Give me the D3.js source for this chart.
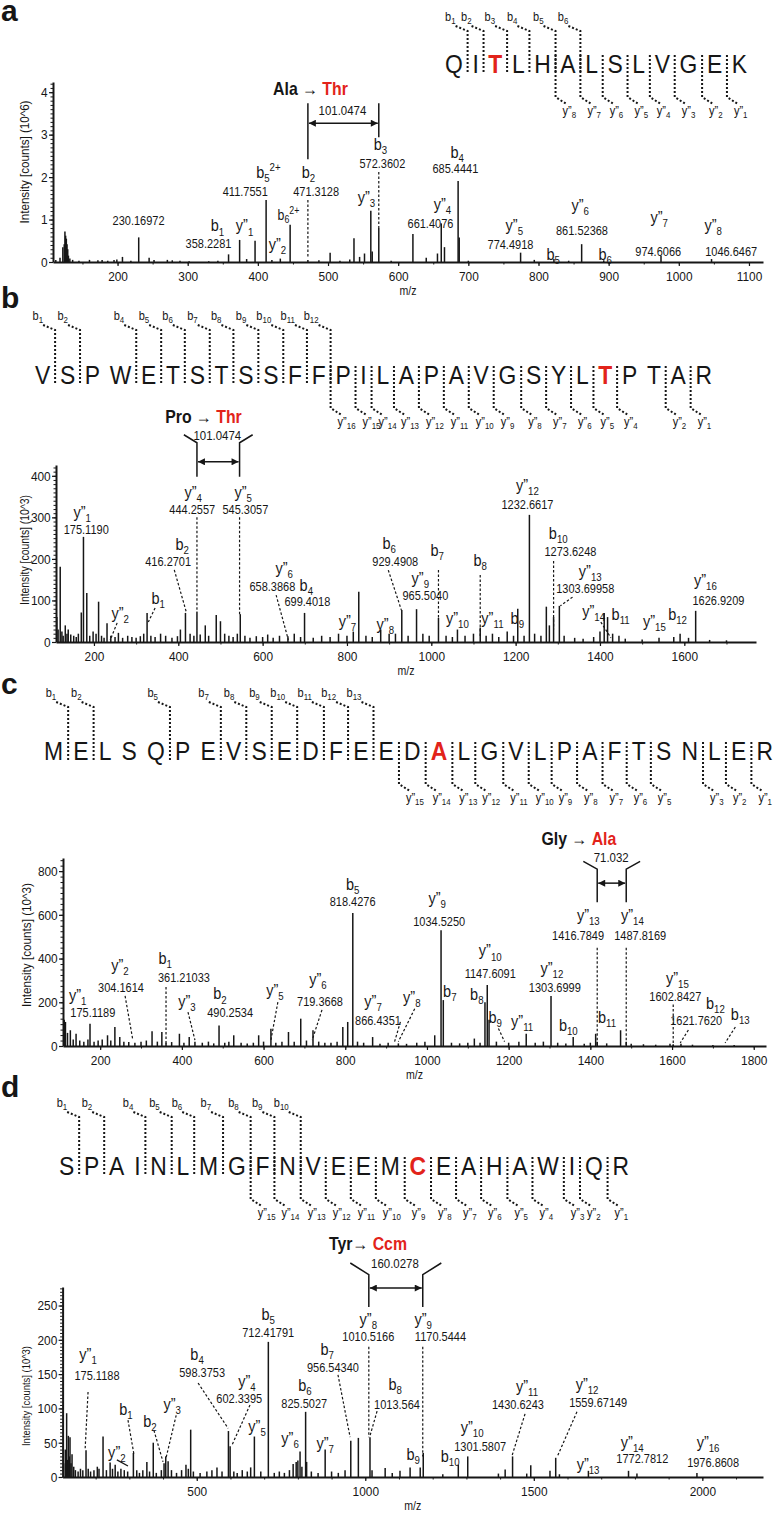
<!DOCTYPE html>
<html><head><meta charset="utf-8">
<script src="https://cdn.jsdelivr.net/npm/d3@7"></script>
<style>
body{margin:0;background:#fff}
svg{display:block}
text{font-family:"Liberation Sans",Arial,Helvetica,sans-serif}
</style>
</head><body>
<svg id="fig" width="778" height="1513"></svg>
<script>
// ================= DATA =================
// ---- panel a ----
const seqA = "QITLHALSLVGEK";
const bIonsA = [1,2,3,4,5,6];
const yIonsA = [8,7,6,5,4,3,2,1];
const redA = 2;
const xTicksA = [200,300,400,500,600,700,800,900,1000,1100];
const yTicksA = [0,1,2,3,4];
const peaksA = [[112,0.05],[118,0.1],[122,0.35],[124,0.42],[125,0.72],[126,0.62],[127,0.55],[128,0.42],[129,0.3],[130,0.15],[132,0.08],[136,0.05],[145,0.03],[160,0.05],[172,0.04],[178,0.05],[186,0.03],[195,0.05],[199,0.06],[207,0.12],[219,0.03],[230.17,0.58],[245,0.1],[252,0.05],[271,0.05],[278,0.04],[289,0.03],[302,0.02],[330,0.02],[343,0.03],[358.23,0.18],[374,0.52],[384,0.07],[396,0.5],[411.76,1.46],[420,0.05],[432,0.08],[446,0.88],[471.31,0.05],[487,0.04],[503,0.22],[517,0.03],[531,0.06],[537,0.56],[545,0.12],[552,0.2],[561,1.21],[563,0.25],[572.36,0.8],[590,0.03],[621,0.66],[640,0.1],[656,0.2],[661.41,0.91],[666,0.35],[685.44,1.91],[687,0.58],[700,0.03],[774.49,0.22],[794,0.05],[822,0.07],[843,0.03],[861.52,0.42],[893,0.04],[974.61,0.15],[1046.65,0.07]];
const annA = [
 {val:'230.16972', vat:[230,0.87]},
 {ion:'b',n:'1', at:[342.5,0.72], val:'358.2281', vat:[329.6,0.33]},
 {ion:'y',n:'1', at:[381,0.72]},
 {ion:'y',n:'2', at:[428,0.28]},
 {ion:'b',n:'5',sup:'2+', at:[415,1.98], val:'411.7551', vat:[382,1.55]},
 {ion:'b',n:'6',sup:'2+', at:[443.6,0.99], small:true},
 {ion:'b',n:'2', at:[472,1.98], val:'471.3128', vat:[483,1.55]},
 {ion:'b',n:'3', at:[574.6,2.64], val:'572.3602', vat:[577.5,2.21]},
 {ion:'y',n:'3', at:[554.7,1.39]},
 {ion:'y',n:'4', at:[663,1.22], val:'661.4076', vat:[646,0.8]},
 {ion:'b',n:'4', at:[684,2.45], val:'685.4441', vat:[681.5,2.09]},
 {ion:'y',n:'5', at:[765.5,0.73], val:'774.4918', vat:[760,0.31]},
 {ion:'y',n:'6', at:[859.5,1.2], val:'861.52368', vat:[862,0.64]},
 {ion:'y',n:'7', at:[972,0.92], val:'974.6066', vat:[970.6,0.14]},
 {ion:'y',n:'8', at:[1049,0.73], val:'1046.6467', vat:[1074.6,0.14]},
 {ion:'b',n:'5', at:[821,0.05]},
 {ion:'b',n:'6', at:[895,0.05]}
];
const dashA = [[[471.3128,1.46],[471.3128,0.09]],[[572.3602,2.12],[572.3602,0.8]]];
const bracketA = {l:471.3128, r:572.3602, top:3.74, botL:2.42, botR:2.94, arrow:3.27, flare:0, flareTop:3.74,
  from:'Ala', to:'Thr', sep:' → ', titleAt:[475,3.93], val:'101.0474', valAt:[520.5,3.46]};

// ---- panel b ----
const seqB = "VSPWETSTSSFFPILAPAVGSYLTPTAR";
const bIonsB = [1,2,4,5,6,7,8,9,10,11,12];
const yIonsB = [16,15,14,13,12,11,10,9,8,7,6,5,4,2,1];
const redB = 23;
const xTicksB = [200,400,600,800,1000,1200,1400,1600];
const yTicksB = [0,100,200,300,400];
const peaksB = [[112,60],[115,30],[120,181],[124,25],[127,15],[132,40],[136,20],[139,30],[145,18],[152,15],[158,12],[163,20],[170,71],[175.12,253],[183,118],[190,15],[198,25],[205,20],[211,97],[218,15],[224,10],[231,45],[240,15],[250,12],[258,22],[268,10],[280,15],[290,12],[300,10],[310,14],[318,20],[326,70],[335,15],[345,12],[358,20],[370,15],[385,10],[398,14],[405,30],[417,70],[428,20],[437,15],[444.26,73],[452,18],[464,40],[472,15],[490,65],[500,50],[510,20],[520,15],[530,12],[540,20],[547,67],[558,15],[570,10],[585,14],[600,12],[612,18],[625,10],[640,15],[660,14],[675,20],[690,12],[699.4,70],[720,10],[740,15],[760,12],[780,20],[800,15],[815,25],[828,121],[845,15],[860,12],[880,30],[900,20],[915,20],[930,77],[945,15],[965,79],[980,20],[995,15],[1017,58],[1035,15],[1050,12],[1062,30],[1080,15],[1100,20],[1116,35],[1130,15],[1145,20],[1160,12],[1180,25],[1195,15],[1205,80],[1220,15],[1232.66,306],[1245,20],[1260,15],[1272.8,85],[1280,40],[1290,60],[1303.7,87],[1315,15],[1340,10],[1360,8],[1385,12],[1400,25],[1410,70],[1418,60],[1430,20],[1445,15],[1460,8],[1500,6],[1540,10],[1575,12],[1590,20],[1610,10],[1626.92,75],[1660,5],[1700,4]];
const annB = [
 {ion:'y',n:'1', at:[172,298], val:'175.1190', vat:[181.7,260]},
 {ion:'b',n:'2', at:[409.4,222], val:'416.2701', vat:[376,183]},
 {ion:'y',n:'4', at:[435.5,346], val:'444.2557', vat:[433,308]},
 {ion:'y',n:'5', at:[554,346], val:'545.3057', vat:[559,308]},
 {ion:'b',n:'1', at:[352.5,91.6]},
 {ion:'y',n:'2', at:[262.4,55]},
 {ion:'y',n:'6', at:[651,164], val:'658.3868', vat:[623,123]},
 {ion:'b',n:'4', at:[703.6,123], val:'699.4018', vat:[706,87]},
 {ion:'y',n:'7', at:[801,36]},
 {ion:'y',n:'8', at:[891,29]},
 {ion:'b',n:'6', at:[900,223], val:'929.4908', vat:[914.6,183]},
 {ion:'y',n:'9', at:[974,140], val:'965.5040', vat:[986,101]},
 {ion:'b',n:'7', at:[1014,207]},
 {ion:'b',n:'8', at:[1116,183]},
 {ion:'y',n:'10', at:[1062,43]},
 {ion:'y',n:'11', at:[1145,43]},
 {ion:'b',n:'9', at:[1204,43]},
 {ion:'y',n:'12', at:[1228,364], val:'1232.6617', vat:[1228,320]},
 {ion:'b',n:'10', at:[1301,249], val:'1273.6248', vat:[1330,207]},
 {ion:'y',n:'13', at:[1377,157], val:'1303.69958', vat:[1365,118]},
 {ion:'y',n:'14', at:[1385,60]},
 {ion:'b',n:'11', at:[1449,53]},
 {ion:'y',n:'15', at:[1529,36]},
 {ion:'b',n:'12', at:[1584,53]},
 {ion:'y',n:'16', at:[1650,135], val:'1626.9209', vat:[1681,89]}
];
const dashB = [[[390.5,173.5],[419,72]],[[444.2557,300],[444.2557,72]],[[545.3057,300],[545.3057,67]],[[345,82],[329,48]],[[255,46],[238.7,5]],[[632,113],[661,5]],[[898,173],[929,77]],[[1017,173],[1017,58]],[[1116,161],[1116,10]],[[1290,195],[1290,30]],[[1335,108],[1306,87]],[[1402,48],[1426,10]]];
const bracketB = {l:444.2557, r:545.3057, top:479.5, botL:397.6, botR:397.6, arrow:433.7, flare:31, flareTop:498.8,
  from:'Pro', to:'Thr', sep:' → ', titleAt:[459.7,527.7], val:'101.0474', valAt:[492.5,485]};

// ---- panel c ----
const seqC = "MELSQPEVSEDFEEDALGVLPAFTSNLER";
const bIonsC = [1,2,5,7,8,9,10,11,12,13];
const yIonsC = [15,14,13,12,11,10,9,8,7,6,5,3,2,1];
const redC = 15;
const xTicksC = [200,400,600,800,1000,1200,1400,1600,1800];
const yTicksC = [0,200,400,600,800];
const peaksC = [[112,120],[115,110],[120,60],[127,72],[134,30],[141,56],[150,25],[160,20],[170,30],[175.12,102],[185,20],[195,25],[205,30],[218,49],[226,25],[236,87],[248,41],[258,20],[270,18],[285,15],[300,20],[313,25],[327,67],[340,20],[351,64],[361.21,15],[375,18],[394,56],[405,15],[418,41],[432,20],[450,15],[465,20],[478,12],[491,94],[505,15],[515,20],[527,49],[545,15],[560,12],[575,15],[588,49],[600,20],[618,79],[630,15],[645,20],[661,64],[675,20],[691,125],[705,25],[721,72],[735,20],[750,15],[765,15],[780,20],[794,87],[806,110],[818.43,608],[830,20],[845,15],[867,41],[885,10],[905,15],[930,12],[950,10],[975,15],[995,20],[1019,49],[1034.5,530],[1040,210],[1060,15],[1080,12],[1100,15],[1116,34],[1130,15],[1142,200],[1147.6,279],[1152,120],[1170,20],[1200,15],[1225,20],[1243,56],[1265,15],[1285,20],[1303.7,229],[1320,15],[1340,12],[1358,41],[1385,10],[1400,15],[1413,56],[1416.8,20],[1440,12],[1474,72],[1487.8,20],[1500,10],[1530,8],[1560,6],[1595,10],[1602.8,8],[1621.8,10],[1650,6],[1700,5],[1752,5]];
const annC = [
 {ion:'b',n:'5', at:[818,713], val:'818.4276', vat:[818,640]},
 {ion:'y',n:'2', at:[248.5,345], val:'304.1614', vat:[251,247]},
 {ion:'b',n:'1', at:[359,375], val:'361.21033', vat:[405,293]},
 {ion:'y',n:'1', at:[145,208], val:'175.1189', vat:[182,133]},
 {ion:'y',n:'3', at:[412.5,178]},
 {ion:'b',n:'2', at:[493,213], val:'490.2534', vat:[518,133]},
 {ion:'y',n:'5', at:[628,229]},
 {ion:'y',n:'6', at:[733,278], val:'719.3668', vat:[738,183]},
 {ion:'y',n:'7', at:[868,180], val:'866.4351', vat:[880,96]},
 {ion:'y',n:'8', at:[963,197]},
 {ion:'b',n:'7', at:[1056,224]},
 {ion:'b',n:'8', at:[1122,210]},
 {ion:'b',n:'9', at:[1167,105]},
 {ion:'y',n:'11', at:[1233,87]},
 {ion:'b',n:'10', at:[1346,69]},
 {ion:'b',n:'11', at:[1441,105]},
 {ion:'y',n:'9', at:[1025,650], val:'1034.5250', vat:[1030,549]},
 {ion:'y',n:'10', at:[1155,410], val:'1147.6091', vat:[1155,311]},
 {ion:'y',n:'12', at:[1306,330], val:'1303.6999', vat:[1313,247]},
 {ion:'y',n:'13', at:[1395,572], val:'1416.7849', vat:[1370,485]},
 {ion:'y',n:'14', at:[1503,572], val:'1487.8169', vat:[1522,485]},
 {ion:'y',n:'15', at:[1613,284], val:'1602.8427', vat:[1608,206]},
 {ion:'b',n:'12', at:[1706,169], val:'1621.7620', vat:[1659,96]},
 {ion:'b',n:'13', at:[1767,119]}
];
const dashC = [[[261,229],[280,27]],[[361.21,270],[361.21,5]],[[415,155],[432,27]],[[635,201],[618,27]],[[743,165],[719,27]],[[935,110],[920,15]],[[970,170],[930,20]],[[1175,80],[1190,20]],[[1416.7849,450],[1416.7849,0]],[[1487.8169,450],[1487.8169,0]],[[1602.8427,190],[1602.8427,0]],[[1640,73],[1620,14]],[[1755,87],[1730,14]]];
const bracketC = {l:1416.7849, r:1487.8169, top:809, botL:658, botR:658, arrow:745, flare:34, flareTop:845,
  from:'Gly', to:'Ala', sep:' → ', titleAt:[1372,919], val:'71.032', valAt:[1451,841]};

// ---- panel d ----
const seqD = "SPAINLMGFNVEEMCEAHAWIQR";
const bIonsD = [1,2,4,5,6,7,8,9,10];
const yIonsD = [15,14,13,12,11,10,9,8,7,6,5,4,3,2,1];
const redD = 14;
const xTicksD = [500,1000,1500,2000];
const yTicksD = [0,50,100,150,200,250];
const peaksD = [[105,20],[110,40],[114,93],[117,25],[119,60],[122,30],[124,58],[127,20],[130,33],[135,15],[140,10],[148,8],[155,12],[162,10],[171.5,39],[178,12],[185,8],[195,10],[205,15],[210,12],[222,59],[232,10],[243,21],[250,12],[258,18],[266,8],[275,12],[285,10],[295,8],[312,35],[322,10],[330,6],[340,10],[352,22],[360,8],[371,50],[380,6],[395,10],[403,20],[408,30],[415,23],[425,10],[440,6],[455,10],[468,18],[475,12],[482,69],[490,8],[510,6],[530,8],[545,10],[560,14],[575,8],[594,67],[599,45],[610,8],[620,6],[635,10],[650,8],[660,14],[671,59],[690,8],[712.42,197],[730,6],[745,8],[760,6],[775,10],[786,19],[795,22],[800,24],[806.5,37],[812,15],[823,95],[826,22],[840,8],[860,6],[881,40],[900,8],[920,6],[940,10],[957,53],[979.5,57],[1014,58],[1020,10],[1059,13],[1080,6],[1103,9],[1133,14],[1163,14],[1172,35],[1230,4],[1276,18],[1304,30],[1395,5],[1415,11],[1437,30],[1479,5],[1491,17],[1548,9],[1565,28],[1576,4],[1662,9],[1781,9],[1806,5],[1984,6]];
const annD = [
 {ion:'y',n:'1', at:[177.5,171], val:'175.1188', vat:[204,141]},
 {ion:'b',n:'1', at:[290,90]},
 {ion:'y',n:'2', at:[263,28]},
 {ion:'b',n:'2', at:[361,73]},
 {ion:'y',n:'3', at:[427,98]},
 {ion:'b',n:'4', at:[501,171], val:'598.3753', vat:[516,146]},
 {ion:'y',n:'4', at:[649,131], val:'602.3395', vat:[626,108]},
 {ion:'y',n:'5', at:[679,66]},
 {ion:'b',n:'5', at:[712,229], val:'712.41791', vat:[712,204]},
 {ion:'b',n:'6', at:[821,125], val:'825.5027', vat:[819,100]},
 {ion:'y',n:'6', at:[777,48]},
 {ion:'y',n:'7', at:[881,41]},
 {ion:'b',n:'7', at:[887,178], val:'956.54340', vat:[904,153]},
 {ion:'y',n:'8', at:[1009,222], val:'1010.5166', vat:[1009,198]},
 {ion:'b',n:'8', at:[1089,127], val:'1013.564', vat:[1094,99]},
 {ion:'y',n:'9', at:[1172,222], val:'1170.5444', vat:[1223,198]},
 {ion:'b',n:'9', at:[1142,25]},
 {ion:'b',n:'10', at:[1252,22]},
 {ion:'y',n:'10', at:[1317,64], val:'1301.5807', vat:[1341,38]},
 {ion:'y',n:'11', at:[1480,124], val:'1430.6243', vat:[1453,99]},
 {ion:'y',n:'12', at:[1658,127], val:'1559.67149', vat:[1691,102]},
 {ion:'y',n:'13', at:[1661,10]},
 {ion:'y',n:'14', at:[1792,42], val:'1772.7812', vat:[1822,20]},
 {ion:'y',n:'16', at:[2017,42], val:'1976.8608', vat:[2032,15]}
];
const dashD = [[[177.5,124],[169,42]],[[296,83],[314,32]],[[373,68],[400,22]],[[439,90],[409,28]],[[504,137],[593,71]],[[658,105],[605,47]],[[919,149],[955,58]],[[1010.5166,190],[1010.5166,58]],[[1035,96],[1014,60]],[[1170.5444,190],[1170.5444,30]],[[1474,92],[1436,32]],[[1628,95],[1569,29]]];
const solidD = [[[263,25],[296,16]]];
const bracketD = {l:1010.5166, r:1170.5444, top:295, botL:248, botR:248, arrow:275.5, flare:55, flareTop:312,
  from:'Tyr', to:'Ccm', sep:'→ ', titleAt:[1008,331], val:'160.0278', valAt:[1088,304]};

// ================= LAYOUT / STYLE =================
const SX = 0.88;
const RED = '#e2231a';
const INK = '#161616';
const svg = d3.select('#fig');

const defs = svg.append('defs');
defs.append('marker').attr('id','ah').attr('viewBox','0 0 10 10').attr('refX',10).attr('refY',5)
  .attr('markerWidth',8).attr('markerHeight',7).attr('markerUnits','userSpaceOnUse')
  .attr('orient','auto-start-reverse')
  .append('path').attr('d','M0,0L10,5L0,10z').attr('fill',INK);

function T(g, x, y, str, o = {}) {
  const t = g.append('text')
    .attr('transform', `translate(${x},${y}) scale(${o.sx ?? SX},1)`)
    .attr('font-size', o.size || 12)
    .attr('text-anchor', o.anchor || 'middle')
    .attr('fill', o.fill || INK);
  if (o.weight) t.attr('font-weight', o.weight);
  if (str != null) t.text(str);
  return t;
}
function ionLabel(g, x, y, ion, n, sup, o = {}) {
  const size = o.size || 16.5, sub = o.sub || 11;
  const t = T(g, x, y, null, {size, anchor: o.anchor || 'middle'});
  t.append('tspan').text(ion === 'y' ? 'y”' : ion);
  t.append('tspan').attr('font-size', sub).attr('dy', size * 0.25).text(n);
  if (sup) t.append('tspan').attr('font-size', sub).attr('dy', -size * 0.7).text(sup);
  return t;
}

// ---------- sequence with fragmentation marks ----------
function sequence(seq, red, bIons, yIons, L) {
  const g = svg.append('g');
  const fs = 26;
  const tmp = g.append('text').attr('font-size', fs);
  const widths = seq.split('').map((ch, i) => {
    tmp.attr('font-weight', i === red ? 'bold' : null).text(ch);
    return tmp.node().getComputedTextLength() * SX;
  });
  tmp.remove();
  const gap = (L.x1 - L.x0 - d3.sum(widths)) / (seq.length - 1);
  const xs = []; let cur = L.x0;
  widths.forEach(w => { xs.push(cur); cur += w + gap; });
  seq.split('').forEach((ch, i) => {
    T(g, xs[i], L.base, ch, {size: fs, anchor: 'start', fill: i === red ? RED : INK, weight: i === red ? 'bold' : null});
  });
  const cut = k => xs[k] - gap / 2;
  const dot = p => g.append('path').attr('d', d3.line()(p)).attr('fill', 'none').attr('stroke', INK)
    .attr('stroke-width', 2).attr('stroke-dasharray', '2 2');
  bIons.forEach(n => {
    const cx = cut(n);
    dot([[cx - 12, L.bY + 5], [cx, L.bY + 10], [cx, L.base]]);
    ionLabel(g, cx - 12, L.bY, 'b', String(n), null, {size: 12.5, sub: 9, anchor: 'end'});
  });
  yIons.forEach(n => {
    const cx = cut(seq.length - n);
    dot([[cx, L.base - 18], [cx, L.base + 24], [cx + 11, L.base + 31]]);
    ionLabel(g, cx + 7, L.base + 42, 'y', String(n), null, {size: 12.5, sub: 9, anchor: 'start'});
  });
}

// ---------- spectrum ----------
function spectrum(P) {
  const g = svg.append('g');
  const x = d3.scaleLinear().domain(P.xDom).range(P.xRng);
  const y = d3.scaleLinear().domain(P.yDom).range(P.yRng);
  const X = d => x(d[0]), Y = d => y(d[1]);

  g.append('g').selectAll('line').data(P.peaks).join('line')
    .attr('x1', X).attr('x2', X).attr('y1', y(0)).attr('y2', Y)
    .attr('stroke', INK).attr('stroke-width', 1.5);

  // minor ticks
  g.append('g').attr('transform', `translate(${P.xRng[0]},0)`)
    .call(d3.axisLeft(y).tickValues(P.yMinor).tickSize(2.5).tickFormat(''))
    .call(s => s.select('.domain').remove());
  g.append('g').attr('transform', `translate(0,${y(0)})`)
    .call(d3.axisBottom(x).tickValues(P.xMinor).tickSize(2.5).tickFormat(''))
    .call(s => s.select('.domain').remove());
  // major axes
  const fmt = d => String(d);
  const ya = g.append('g').attr('transform', `translate(${P.xRng[0]},0)`)
    .call(d3.axisLeft(y).tickValues(P.yTicks).tickSize(4).tickSizeOuter(0).tickPadding(2).tickFormat(fmt));
  const xa = g.append('g').attr('transform', `translate(0,${y(0)})`)
    .call(d3.axisBottom(x).tickValues(P.xTicks).tickSize(4).tickSizeOuter(0).tickPadding(5).tickFormat(fmt));
  [ya, xa].forEach(a => {
    a.selectAll('.domain').attr('stroke', INK).attr('stroke-width', 2);
    a.selectAll('.tick line').attr('stroke', INK).attr('stroke-width', 1.2);
    a.selectAll('text').attr('font-size', 13.5).attr('fill', INK).attr('transform', `scale(${SX},1)`);
  });
  g.selectAll('.tick line').attr('stroke', INK);

  // axis titles
  T(g, (P.xRng[0] + P.xRng[1]) / 2, y(0) + 33, 'm/z', {size: 12});
  g.append('text').attr('transform', `translate(${P.yTitle[0]},${P.yTitle[1]}) rotate(-90)`)
    .attr('text-anchor', 'middle').attr('font-size', P.yTitle[3] || 12.5).attr('fill', INK)
    .attr('textLength', P.yTitle[2]).attr('lengthAdjust', 'spacingAndGlyphs')
    .text(`Intensity [counts] (10^${P.exp})`);

  // leader lines
  const line = d3.line().x(X).y(Y);
  g.append('g').selectAll('path').data(P.dashes).join('path').attr('d', line)
    .attr('fill', 'none').attr('stroke', INK).attr('stroke-width', 1.2).attr('stroke-dasharray', '2.5 2');
  g.append('g').selectAll('path').data(P.solids || []).join('path').attr('d', line)
    .attr('fill', 'none').attr('stroke', INK).attr('stroke-width', 1.2);

  // annotations
  P.ann.forEach(a => {
    if (a.ion) ionLabel(g, x(a.at[0]), y(a.at[1]), a.ion, a.n, a.sup, a.small ? {size: 14, sub: 10} : {});
    if (a.val) T(g, x(a.vat[0]), y(a.vat[1]), a.val, {size: 12.5});
  });

  // mass-shift bracket
  const B = P.br;
  const bl = pts => g.append('path').attr('d', d3.line()(pts)).attr('fill', 'none')
    .attr('stroke', INK).attr('stroke-width', 1.5);
  const fx = B.flare;
  bl([[x(B.l - fx), y(B.flareTop)], [x(B.l), y(B.top)], [x(B.l), y(B.botL)]]);
  bl([[x(B.r + fx), y(B.flareTop)], [x(B.r), y(B.top)], [x(B.r), y(B.botR)]]);
  g.append('line').attr('x1', x(B.l) + 1).attr('x2', x(B.r) - 1).attr('y1', y(B.arrow)).attr('y2', y(B.arrow))
    .attr('stroke', INK).attr('stroke-width', 1.5)
    .attr('marker-start', 'url(#ah)').attr('marker-end', 'url(#ah)');
  T(g, x(B.valAt[0]), y(B.valAt[1]), B.val, {size: 13});
  const tt = T(g, x(B.titleAt[0]), y(B.titleAt[1]), null, {size: 18});
  tt.append('tspan').attr('font-weight', 'bold').text(B.from);
  tt.append('tspan').text(B.sep);
  tt.append('tspan').attr('font-weight', 'bold').attr('fill', RED).text(B.to);
}

// ---------- panel letters ----------
[['a', 21], ['b', 308], ['c', 694], ['d', 1097]].forEach(([s, yy]) =>
  T(svg, 1, yy, s, {size: 30, weight: 'bold', anchor: 'start', sx: 1}));

// ---------- panels ----------
sequence(seqA, redA, bIonsA, yIonsA, {x0: 445, x1: 747, base: 73, bY: 21});
spectrum({peaks: peaksA, ann: annA, dashes: dashA, br: bracketA, exp: 6,
  xDom: [108, 1120], xRng: [53, 763], yDom: [0, 4.24], yRng: [262, 82],
  xTicks: xTicksA, xMinor: d3.range(150, 1120, 50), yTicks: yTicksA, yMinor: d3.range(0, 4.24, 0.1),
  yTitle: [29, 162, 123]});

sequence(seqB, redB, bIonsB, yIonsB, {x0: 35, x1: 712, base: 384, bY: 320});
spectrum({peaks: peaksB, ann: annB, dashes: dashB, br: bracketB, exp: 3,
  xDom: [110, 1770], xRng: [56, 756], yDom: [0, 426], yRng: [642, 465],
  xTicks: xTicksB, xMinor: d3.range(200, 1770, 100), yTicks: yTicksB, yMinor: d3.range(0, 426, 10),
  yTitle: [29, 550, 110]});

sequence(seqC, redC, bIonsC, yIonsC, {x0: 44, x1: 773, base: 760, bY: 697});
spectrum({peaks: peaksC, ann: annC, dashes: dashC, br: bracketC, exp: 3,
  xDom: [109, 1830], xRng: [63, 766], yDom: [0, 860], yRng: [1046, 858],
  xTicks: xTicksC, xMinor: d3.range(200, 1830, 100), yTicks: yTicksC, yMinor: d3.range(0, 860, 25),
  yTitle: [31, 945, 124]});

sequence(seqD, redD, bIonsD, yIonsD, {x0: 59, x1: 629, base: 1175, bY: 1107});
spectrum({peaks: peaksD, ann: annD, dashes: dashD, solids: solidD, br: bracketD, exp: 3,
  xDom: [102, 2180], xRng: [62.6, 763], yDom: [0, 277], yRng: [1477, 1287],
  xTicks: xTicksD, xMinor: d3.range(200, 2180, 100), yTicks: yTicksD, yMinor: d3.range(0, 277, 5),
  yTitle: [30, 1396, 100, 11.5]});
</script>
</body></html>
